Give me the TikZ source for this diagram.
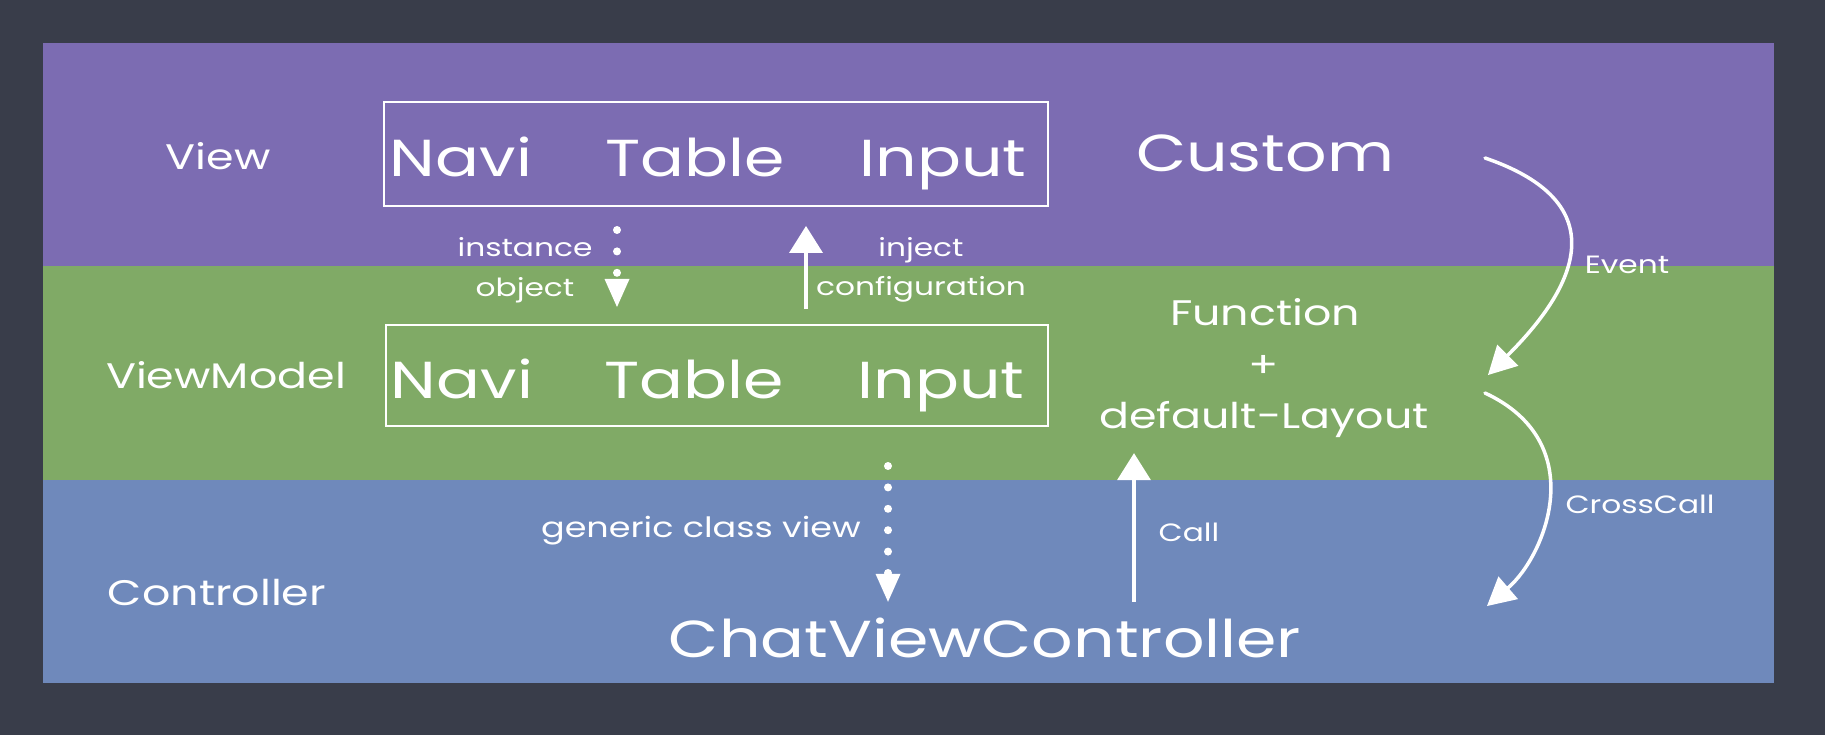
\documentclass[tikz,border=0pt]{standalone}
\usepackage{fontspec}
\setmainfont{Poppins}[FakeStretch=1.25]
\usetikzlibrary{arrows.meta}
\definecolor{board}{RGB}{57,61,74}
\definecolor{bandV}{RGB}{124,108,178}
\definecolor{bandVM}{RGB}{128,170,102}
\definecolor{bandC}{RGB}{111,137,187}
\begin{document}
\begin{tikzpicture}[x=1pt,y=-1pt,
  lbl/.style={text=white, inner sep=0pt, anchor=base},
  big/.style={lbl, font=\fontsize{52}{60}\selectfont},
  mid/.style={lbl, font=\fontsize{35.5}{40}\selectfont},
  small/.style={lbl, font=\fontsize{25}{28}\selectfont},
  frame/.style={draw=white, line width=2pt, inner sep=0pt},
  solidarrow/.style={draw=white, line width=4pt, -{Triangle[width=34pt,length=27pt,line width=0pt]}},
  dotarrow/.style={draw=white, line width=8pt, line cap=round, dash pattern=on 0pt off 21.4pt, -{Triangle[width=25pt,length=28pt,line width=0pt]}},
  arcarrow/.style={draw=white, line width=3.5pt, line cap=round, -{Triangle[width=30pt,length=28pt,line width=0pt]}}
]
\fill[board] (0,0) rectangle (1825,735);
\useasboundingbox (0,0) rectangle (1825,735);
\fill[bandV] (43,43) rectangle (1774,266);
\fill[bandVM] (43,266) rectangle (1774,480);
\fill[bandC] (43,480) rectangle (1774,683);

% frames
\node[frame, minimum width=664pt, minimum height=104pt] (vbox) at (716,154) {};
\node[frame, minimum width=662pt, minimum height=101pt] (vmbox) at (717,375.5) {};

% layer labels
\node[mid] (view) at (218,170) {View};
\node[mid] (viewmodel) at (226,388) {ViewModel};
\node[mid] (controller) at (217,605) {Controller};

% components
\node[big] (navi1) at (461,177) {Navi};
\node[big] (table1) at (695,177) {Table};
\node[big] (input1) at (943,177) {Input};
\node[big] (navi2) at (462,398) {Navi};
\node[big] (table2) at (694,398) {Table};
\node[big] (input2) at (941,398) {Input};

\node[big] (custom) at (1265,172) {Custom};
\node[mid] (function) at (1265,325) {Function};
\node[mid] (plus) at (1264,377) {+};
\node[mid, text depth=25pt] (deflayout) at (1264,428) {default-Layout};
\node[big, text height=55pt] (cvc) at (985,657) {ChatViewController};

% small labels
\node[small] (instance) at (525,257) {instance};
\node[small] (object) at (525,297) {object};
\node[small] (inject) at (921,257) {inject};
\node[small] (config) at (921,295) {configuration};
\node[small] (event) at (1627,273) {Event};
\node[small] (crosscall) at (1640,513) {CrossCall};
\node[small] (call) at (1189,541) {Call};
\node[small, font=\fontsize{28}{32}\selectfont] (generic) at (701,537) {generic class view};

% connectors
\coordinate (dotA) at (617,0);
\coordinate (injX) at (806,0);
\coordinate (genX) at (888,0);
\coordinate (callX) at (1134,0);
\draw[dotarrow, shorten <=23pt, shorten >=17pt] (vbox.south -| dotA) -- (vmbox.north -| dotA);
\draw[solidarrow, shorten <=15pt, shorten >=19pt] (vmbox.north -| injX) -- (vbox.south -| injX);
\draw[dotarrow, shorten <=39pt] (vmbox.south -| genX) -- (cvc.north -| genX);
\draw[solidarrow] (cvc.north -| callX) -- (deflayout.south -| callX);

\coordinate (evS) at (1485,158);
\coordinate (evE) at (1488,375);
\draw[arcarrow] (evS) .. controls (1634,209) and (1556,307) .. (evE);
\coordinate (ccS) at (1485,393);
\coordinate (ccE) at (1487,606);
\draw[arcarrow] (ccS) .. controls (1592,443) and (1545,556) .. (ccE);
\end{tikzpicture}
\end{document}
